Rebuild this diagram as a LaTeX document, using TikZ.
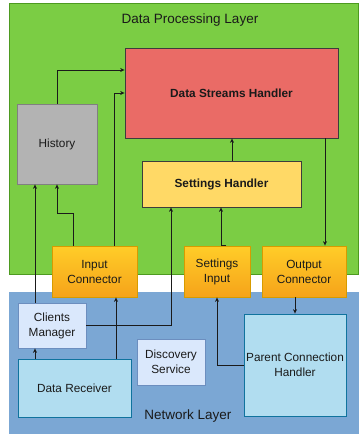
\documentclass[tikz,border=0pt]{standalone}
\usepackage{fontspec}
\setmainfont{Liberation Sans}
\usetikzlibrary{arrows.meta}
\definecolor{layergreen}{HTML}{7BCD44}
\definecolor{layergreenline}{HTML}{4D9A20}
\definecolor{layerblue}{HTML}{7BA7D4}
\definecolor{streamred}{HTML}{EA6B66}
\definecolor{histgray}{HTML}{B3B3B3}
\definecolor{setyellow}{HTML}{FFD966}
\definecolor{orangetop}{HTML}{FFCD28}
\definecolor{orangebot}{HTML}{F6A31A}
\definecolor{orangeline}{HTML}{D79B00}
\definecolor{paleblue}{HTML}{DAE8FC}
\definecolor{palebluel}{HTML}{6C8EBF}
\definecolor{skyblue}{HTML}{B1DDF0}
\definecolor{skybluel}{HTML}{10739E}
\definecolor{ink}{HTML}{1A1A1A}
\tikzset{
  x=1pt, y=-1pt,
  blk/.style={draw, rectangle, inner sep=1pt, align=center, text=ink,
    font=\fontsize{11.8}{15}\selectfont, line width=0.8pt},
  conn/.style={blk, draw=orangeline, top color=orangetop, bottom color=orangebot,
    minimum width=#1, minimum height=51pt},
  pale/.style={blk, draw=palebluel, fill=paleblue},
  sky/.style={blk, draw=skybluel, fill=skyblue},
  arr/.style={draw=ink, line width=0.8pt, -{Stealth[length=4.5pt,width=4pt]}},
  layertitle/.style={font=\fontsize{13.5}{15}\selectfont, text=ink}
}
\begin{document}
\begin{tikzpicture}
\useasboundingbox (0,0) rectangle (359,434);
% layers
\node[draw=layergreenline, fill=layergreen, line width=0.8pt, minimum width=349pt, minimum height=271pt, inner sep=0pt] (proc) at (183.5,138.5) {};
\node[fill=layerblue, minimum width=350pt, minimum height=142pt, inner sep=0pt] (net) at (184,363) {};
\node[layertitle] (proctitle) at (190,20) {Data Processing Layer};
\node[layertitle] (nettitle) at (188,416) {Network Layer};
% processing blocks
\node[blk, draw=ink!85, fill=streamred, minimum width=213pt, minimum height=90pt, font=\fontsize{11.8}{15}\selectfont\bfseries] (dsh) at (231.5,93) {Data Streams Handler};
\node[blk, draw=gray, fill=histgray, minimum width=80pt, minimum height=80pt] (hist) at (57,144) {History};
\node[blk, draw=ink!85, fill=setyellow, minimum width=159pt, minimum height=46pt, font=\fontsize{11.8}{15}\selectfont\bfseries] (sh) at (221.5,184) {Settings Handler};
% connectors
\node[conn=85pt] (inc) at (94.5,271.5) {Input\\Connector};
\node[conn=66pt] (si) at (217,271.5) {Settings\\Input};
\node[conn=84pt] (oc) at (304,271.5) {Output\\Connector};
% network blocks
\node[pale, minimum width=68pt, minimum height=45pt] (cm) at (52,325.5) {Clients\\Manager};
\node[sky, minimum width=113pt, minimum height=58pt] (dr) at (74.5,388) {Data Receiver};
\node[pale, minimum width=68pt, minimum height=46pt] (ds) at (171,362) {Discovery\\Service};
\node[sky, minimum width=102pt, minimum height=102pt] (pch) at (295,365) {Parent Connection\\Handler};
% links
\draw[arr] (hist.north) |- ([yshift=23pt]dsh.west);
\draw[arr] ([xshift=19.5pt]inc.north) |- (dsh.west);
\draw[arr] ([xshift=-21.5pt]inc.north) -- ++(0,-32) -| (hist.south);
\draw[arr] ([xshift=-17pt]cm.north) -- ([xshift=-17pt]cm.north |- hist.south);
\draw[arr] ([xshift=10.5pt]sh.north) -- ([xshift=10.5pt]sh.north |- dsh.south);
\draw[arr] ([xshift=9pt]si.north) -- ([xshift=4pt]si.north) -- ([xshift=4pt]si.north |- sh.south);
\draw[arr] ([xshift=21pt]oc.north |- dsh.south) -- ([xshift=21pt]oc.north);
\draw[arr] ([xshift=-9pt]oc.south) -- (pch.north);
\draw[arr] (pch.west) -| (si.south);
\draw[arr] (cm.east) -| ([xshift=-50.5pt]sh.south);
\draw[arr] ([xshift=21.5pt]inc.south |- dr.north) -- ([xshift=21.5pt]inc.south);
\draw[arr] ([xshift=-17pt]cm.south |- dr.north) -- ([xshift=-17pt]cm.south);
\end{tikzpicture}
\end{document}
